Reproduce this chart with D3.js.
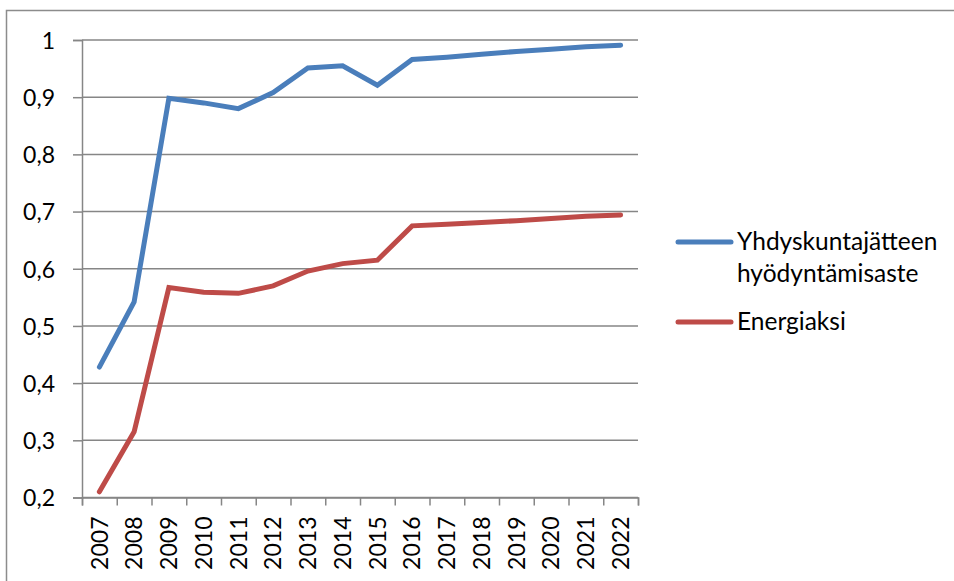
<!DOCTYPE html>
<html>
<head>
<meta charset="utf-8">
<script src="https://cdn.jsdelivr.net/npm/d3@7"></script>
<style>
  body { margin: 0; background: #fff; }
  text { font-family: Lato, "Liberation Sans", sans-serif; fill: #000; }
</style>
</head>
<body>
<svg id="chart" width="954" height="581"></svg>
<script>
// data
var years = ["2007","2008","2009","2010","2011","2012","2013","2014","2015","2016","2017","2018","2019","2020","2021","2022"];
var hyodyntamisaste = [0.428, 0.542, 0.898, 0.890, 0.880, 0.908, 0.951, 0.955, 0.921, 0.966, 0.970, 0.975, 0.980, 0.984, 0.988, 0.991];
var energiaksi = [0.210, 0.315, 0.567, 0.559, 0.557, 0.570, 0.596, 0.609, 0.615, 0.675, 0.678, 0.681, 0.684, 0.688, 0.692, 0.694];
var yTicks = [0.2, 0.3, 0.4, 0.5, 0.6, 0.7, 0.8, 0.9, 1];
var seriesNames = ["Yhdyskuntajätteen|hyödyntämisaste", "Energiaksi"];
var colors = ["#4a7ebb", "#be4b48"];

var svg = d3.select("#chart");

// outer chart border (runs off the right and bottom of the picture)
svg.append("rect")
    .attr("x", 6.5).attr("y", 10.5)
    .attr("width", 1000).attr("height", 700)
    .attr("fill", "none")
    .attr("stroke", "#8c8c8c")
    .attr("stroke-width", 1.5);

var plotLeft = 82, plotRight = 638, plotTop = 40, plotBottom = 497.5;

var x = d3.scaleBand().domain(years).range([plotLeft, plotRight]).padding(0);
var xEdges = d3.scaleLinear().domain([0, years.length]).range([plotLeft, plotRight]);
var y = d3.scaleLinear().domain([0.2, 1]).range([plotBottom, plotTop]);

// gridlines
svg.append("g")
    .selectAll("line")
    .data(yTicks)
    .join("line")
    .attr("x1", plotLeft).attr("x2", plotRight)
    .attr("y1", function(d) { return y(d); })
    .attr("y2", function(d) { return y(d); })
    .attr("stroke", "#868686")
    .attr("stroke-width", 1.5);

// y axis
var yAxis = svg.append("g")
    .attr("transform", "translate(" + plotLeft + ",0)")
    .call(d3.axisLeft(y).tickValues(yTicks).tickSize(9).tickPadding(18)
        .tickFormat(function(d) { return d3.format(".1~f")(d).replace(".", ","); }));
yAxis.select(".domain").attr("stroke", "#868686").attr("stroke-width", 1.5);
yAxis.selectAll(".tick line").attr("stroke", "#868686").attr("stroke-width", 1.5);
yAxis.selectAll(".tick text").style("font-size", "23px").attr("dy", "0.36em");

// x axis: tick marks between categories
var xTickAxis = svg.append("g")
    .attr("transform", "translate(0," + plotBottom + ")")
    .call(d3.axisBottom(xEdges).tickValues(d3.range(years.length + 1)).tickSize(8).tickFormat(""));
xTickAxis.select(".domain").attr("stroke", "#868686").attr("stroke-width", 1.5);
xTickAxis.selectAll(".tick line").attr("stroke", "#868686").attr("stroke-width", 1.5);

// x axis labels
var xLabelAxis = svg.append("g")
    .attr("transform", "translate(0," + plotBottom + ")")
    .call(d3.axisBottom(x).tickSize(0).tickPadding(0));
xLabelAxis.select(".domain").remove();
xLabelAxis.selectAll(".tick text")
    .style("font-size", "23px")
    .style("text-anchor", "end")
    .attr("transform", "rotate(-90)")
    .attr("x", -19)
    .attr("y", 0)
    .attr("dy", "0.36em");

// lines
var line = d3.line()
    .x(function(d, i) { return x(years[i]) + x.bandwidth() / 2; })
    .y(function(d) { return y(d); });

[hyodyntamisaste, energiaksi].forEach(function(vals, k) {
    svg.append("path")
        .datum(vals)
        .attr("d", line)
        .attr("fill", "none")
        .attr("stroke", colors[k])
        .attr("stroke-width", 5)
        .attr("stroke-linecap", "round")
        .attr("stroke-linejoin", "miter");
});

// legend
var legendY = [242, 322];
seriesNames.forEach(function(name, k) {
    var g = svg.append("g").attr("transform", "translate(0," + legendY[k] + ")");
    g.append("line")
        .attr("x1", 678).attr("x2", 731)
        .attr("stroke", colors[k])
        .attr("stroke-width", 5)
        .attr("stroke-linecap", "round");
    var t = g.append("text")
        .attr("x", 737)
        .attr("y", 8)
        .style("font-size", "24.5px");
    name.split("|").forEach(function(part, j) {
        t.append("tspan").attr("x", 737).attr("dy", j === 0 ? 0 : 31.5).text(part);
    });
});
</script>
</body>
</html>
